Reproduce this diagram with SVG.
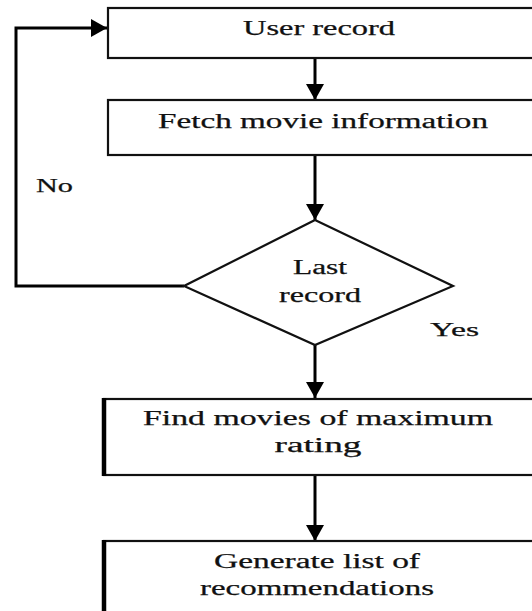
<svg xmlns="http://www.w3.org/2000/svg" width="532" height="611" viewBox="0 0 532 611">
<style>
.box{fill:#fff;stroke:#111;stroke-width:2.2}
.thick{stroke:#000;stroke-width:4.5}
.lbl{font-family:"Liberation Serif","Times New Roman",serif;font-size:20px;fill:#111;stroke:#111;stroke-width:0.25;text-anchor:middle}
.side{font-family:"Liberation Serif","Times New Roman",serif;font-size:19px;fill:#111;stroke:#111;stroke-width:0.25}
.edge{fill:none;stroke:#000;stroke-width:3}
</style>
<defs>
<marker id="ah" markerUnits="userSpaceOnUse" markerWidth="18" markerHeight="20" viewBox="0 0 18 20" refX="16" refY="10" orient="auto">
<path d="M0,1 L16,10 L0,19 Z" fill="#000"/>
</marker>
</defs>
<rect width="532" height="611" fill="#fff"/>
<g id="connectors">
<line class="edge" x1="315" y1="58" x2="315" y2="100" marker-end="url(#ah)"/>
<line class="edge" x1="315" y1="155" x2="315" y2="220" marker-end="url(#ah)"/>
<polyline class="edge" points="184,286 16,286 16,28 107,28" marker-end="url(#ah)"/>
<line class="edge" x1="315" y1="345" x2="315" y2="398" marker-end="url(#ah)"/>
<line class="edge" x1="315" y1="475" x2="315" y2="541" marker-end="url(#ah)"/>
<text class="side" x="36" y="192" textLength="37" lengthAdjust="spacingAndGlyphs">No</text>
<text class="side" x="430" y="336" textLength="49" lengthAdjust="spacingAndGlyphs">Yes</text>
</g>
<g id="user-record">
<rect class="box" x="108" y="8" width="440" height="50"/>
<text class="lbl" x="319" y="35" textLength="152" lengthAdjust="spacingAndGlyphs">User record</text>
</g>
<g id="fetch-movie">
<rect class="box" x="108" y="100" width="440" height="55"/>
<text class="lbl" x="323" y="128" textLength="330" lengthAdjust="spacingAndGlyphs">Fetch movie information</text>
</g>
<g id="last-record">
<polygon class="box" points="315,220 453,286 315,345 184,286"/>
<text class="lbl" x="320" y="274" textLength="54" lengthAdjust="spacingAndGlyphs">Last</text>
<text class="lbl" x="320" y="302" textLength="82" lengthAdjust="spacingAndGlyphs">record</text>
</g>
<g id="find-movies">
<rect class="box" x="104" y="399" width="444" height="76"/>
<line class="thick" x1="104" y1="398" x2="104" y2="476"/>
<text class="lbl" x="318" y="425" textLength="350" lengthAdjust="spacingAndGlyphs">Find movies of maximum</text>
<text class="lbl" x="318" y="452" textLength="87" lengthAdjust="spacingAndGlyphs">rating</text>
</g>
<g id="generate-list">
<rect class="box" x="104" y="541" width="444" height="80"/>
<line class="thick" x1="104" y1="540" x2="104" y2="611"/>
<text class="lbl" x="317" y="568" textLength="206" lengthAdjust="spacingAndGlyphs">Generate list of</text>
<text class="lbl" x="317" y="595" textLength="234" lengthAdjust="spacingAndGlyphs">recommendations</text>
</g>
</svg>
